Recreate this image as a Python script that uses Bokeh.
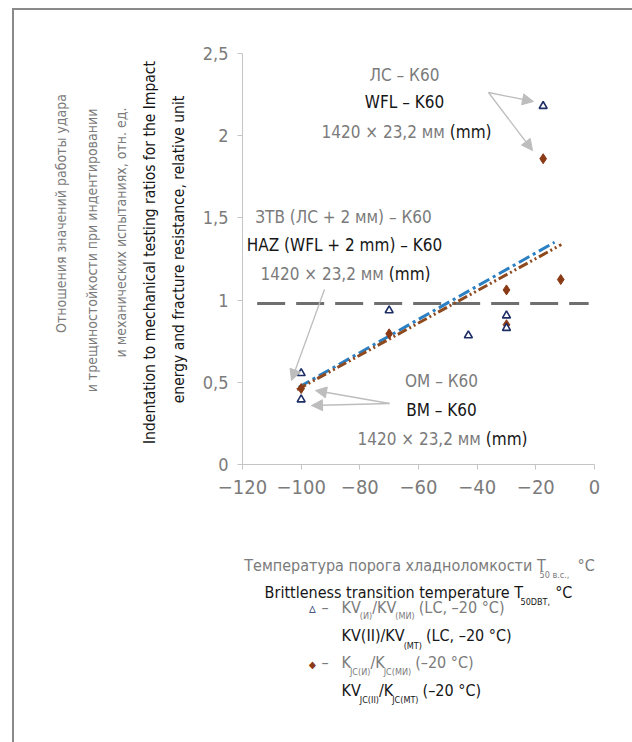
import math
from bokeh.plotting import figure
from bokeh.models import Range1d, Label, Arrow, NormalHead, FixedTicker
from bokeh.layouts import column, row
from bokeh.embed import file_html
from bokeh.resources import INLINE

# ---------------- data ----------------
tri_x = [-100, -100, -70, -43, -30, -30, -17.5]
tri_y = [0.555, 0.395, 0.937, 0.785, 0.906, 0.83, 2.18]
dia_x = [-100, -70, -30, -30, -17.5, -11.5]
dia_y = [0.462, 0.795, 0.85, 1.062, 1.86, 1.125]

trend_tri_x = [-100.8, -13.6]
trend_tri_y = [0.47, 1.352]
trend_dia_x = [-101.4, -11.3]
trend_dia_y = [0.455, 1.338]

ref_x = [-115, -2]
ref_y = [0.98, 0.98]

x_ticks = [-120, -100, -80, -60, -40, -20, 0]
x_tick_labels = ["\u2212120", "\u2212100", "\u221280", "\u221260", "\u221240", "\u221220", "0"]
y_ticks = [0, 0.5, 1, 1.5, 2, 2.5]
y_tick_labels = ["0", "0,5", "1", "1,5", "2", "2,5"]

FONT = "DejaVu Sans Condensed"
GRAY = "#7b7b7b"
BLACK = "#161616"
NAVY = "#1d2d66"
BROWN = "#8a3a15"
BLUE = "#2b7fc3"
TBROWN = "#8e4a1e"
FRAME = "#8a8a8a"

W, H = 632, 742
LEFT_W = 196        # left strip with the rotated titles
ROW_H = 515         # height of the row holding the plot
FL, FR, FT, FB = 242, 594, 53, 464   # plot frame in page pixels

# approximate advance widths (em) of DejaVu Sans; the condensed face is ~0.9x
_W = {" ": .318, "(": .39, ")": .39, ",": .318, ".": .318, "/": .337, "°": .5,
      "–": .5, "−": .838, "+": .838, "×": .838,
      "A": .684, "B": .686, "C": .698, "D": .77, "I": .295, "J": .295, "K": .656,
      "L": .557, "M": .863, "T": .611, "V": .684, "W": .989, "F": .575, "H": .752,
      "Z": .685, "O": .787, "И": .752, "М": .863, "Л": .7, "С": .698, "К": .656,
      "Т": .611, "З": .61, "В": .686, "О": .787,
      "a": .613, "b": .635, "c": .55, "d": .635, "e": .615, "g": .635, "i": .278,
      "l": .278, "m": .974, "n": .634, "o": .612, "p": .635, "r": .411, "s": .521,
      "t": .392, "u": .634, "v": .592, "y": .592, "f": .352,
      "а": .613, "б": .62, "в": .59, "г": .5, "д": .65, "е": .615, "ж": .87,
      "з": .53, "и": .65, "й": .65, "к": .59, "л": .64, "м": .75, "н": .65,
      "о": .612, "п": .65, "р": .635, "с": .55, "т": .52, "у": .592, "ф": .8,
      "х": .592, "ц": .66, "ч": .6, "ш": .9, "щ": .92, "ы": .8, "ь": .59,
      "э": .55, "ю": .87, "я": .6}


def text_w(s, size):
    tot = 0.0
    for ch in s:
        if ch.isdigit():
            tot += .636
        else:
            tot += _W.get(ch, .62)
    return tot * 0.9 * size


def make_aux(width, height, xr, yr, top=0, bottom=0):
    f = figure(width=width, height=height, output_backend="svg", toolbar_location=None,
               x_range=Range1d(*xr), y_range=Range1d(*yr),
               min_border_left=0, min_border_right=0,
               min_border_top=top, min_border_bottom=bottom,
               x_axis_location=None, y_axis_location=None)
    f.outline_line_color = None
    f.grid.visible = False
    f.background_fill_color = None
    f.border_fill_color = None
    return f


# left strip: same vertical borders as the main plot, y range in page pixels
left = make_aux(LEFT_W, ROW_H, (0, LEFT_W), (FB, FT), top=FT, bottom=ROW_H - FB)
# bottom strip: x and y in page pixels
bottom = make_aux(W, H - ROW_H, (0, W), (H, ROW_H))

p = figure(width=W - LEFT_W, height=ROW_H, output_backend="svg",
           toolbar_location=None,
           x_range=Range1d(-120, 0), y_range=Range1d(0, 2.5),
           min_border_left=FL - LEFT_W, min_border_right=W - FR,
           min_border_top=FT, min_border_bottom=ROW_H - FB)
p.outline_line_color = None
p.grid.visible = False
p.background_fill_color = None
p.border_fill_color = None

for ax in (p.xaxis[0], p.yaxis[0]):
    ax.axis_line_color = "#c4c4c4"
    ax.major_tick_line_color = "#c4c4c4"
    ax.minor_tick_line_color = None
    ax.major_tick_in = 0
    ax.major_tick_out = 5
    ax.major_label_text_font = FONT
    ax.major_label_text_color = GRAY

p.xaxis.ticker = FixedTicker(ticks=x_ticks)
p.xaxis.major_label_overrides = {t: l for t, l in zip(x_ticks, x_tick_labels)}
p.xaxis.major_label_text_font_size = "20px"
p.xaxis.major_label_standoff = 10
p.yaxis.ticker = FixedTicker(ticks=y_ticks)
p.yaxis.major_label_overrides = {t: l for t, l in zip(y_ticks, y_tick_labels)}
p.yaxis.major_label_text_font_size = "18px"
p.yaxis.major_label_standoff = 9


def X(px):
    return -120 + (px - FL) * 120.0 / (FR - FL)


def Y(py):
    return (FB - py) * 2.5 / (FB - FT)


def lab(fig, px, py, text, color, size, align="center", angle=0.0):
    """py is the vertical centre of the text line in page pixels."""
    if fig is p:
        x, y = X(px), Y(py)
    else:
        x, y = px, py
    fig.add_layout(Label(x=x, y=y, text=text, text_color=color,
                         text_font=FONT, text_font_size=f"{size}px",
                         text_align=align, text_baseline="middle", angle=angle))


def chain(fig, x0, py, pieces, center=False):
    """pieces: (text, color, size, dy, gap_after)"""
    total = sum(text_w(t, s) + g for (t, c, s, dy, g) in pieces)
    x = x0 - total / 2 if center else x0
    for (t, c, s, dy, g) in pieces:
        lab(fig, x, py + dy, t, c, s, align="left")
        x += text_w(t, s) + g


# reference dashed line
p.line(ref_x, ref_y, line_color="#6f6f6f", line_width=3, line_dash="28 11")

# trend lines
p.line(trend_tri_x, trend_tri_y, line_color=BLUE, line_width=3, line_dash="12 4 3 4")
p.line(trend_dia_x, trend_dia_y, line_color=TBROWN, line_width=3, line_dash="10 3 2 3 2 3")

# points
p.scatter(dia_x, dia_y, marker="diamond", size=10, fill_color=BROWN, line_color=BROWN)
p.scatter(tri_x, tri_y, marker="triangle", size=8, fill_color="white",
          line_color=NAVY, line_width=1.6)

# arrows
ARROW = "#bdbdbd"
for (x0, y0, x1, y1) in [(488, 92, 533, 101), (488, 92, 532, 150), (324, 289, 291, 380),
                         (389, 403, 315, 390), (389, 403, 311, 405)]:
    p.add_layout(Arrow(x_start=X(x0), y_start=Y(y0), x_end=X(x1), y_end=Y(y1),
                       line_color=ARROW, line_width=1.3,
                       end=NormalHead(size=11, fill_color=ARROW, line_color=ARROW)))

# annotations inside the plot
AS = 17
lab(p, 404, 74, "ЛС – К60", GRAY, AS)
lab(p, 404, 101, "WFL – K60", BLACK, AS)
chain(p, 406, 131, [("1420 × 23,2 мм", GRAY, AS, 0, 5), ("(mm)", BLACK, AS, 0, 0)], center=True)

lab(p, 343, 216, "ЗТВ (ЛС + 2 мм) – К60", GRAY, AS)
lab(p, 344, 244, "HAZ (WFL + 2 mm) – K60", BLACK, AS)
chain(p, 345, 273, [("1420 × 23,2 мм", GRAY, AS, 0, 5), ("(mm)", BLACK, AS, 0, 0)], center=True)

lab(p, 441, 380, "ОМ – К60", GRAY, AS)
lab(p, 441, 409, "BM – K60", BLACK, AS)
chain(p, 442, 438, [("1420 × 23,2 мм", GRAY, AS, 0, 5), ("(mm)", BLACK, AS, 0, 0)], center=True)

# y axis titles (rotated)
RS = 14
ES = 15.5
R = math.pi / 2
lab(left, 60, 213, "Отношения значений работы удара", GRAY, RS, angle=R)
lab(left, 91, 250, "и трещиностойкости при индентировании", GRAY, RS, angle=R)
lab(left, 120, 232, "и механических испытаниях, отн. ед.", GRAY, RS, angle=R)
lab(left, 149, 252, "Indentation to mechanical testing ratios for the Impact", BLACK, ES, angle=R)
lab(left, 178, 249, "energy and fracture resistance, relative unit", BLACK, ES, angle=R)

# x axis titles
XS = 16
SUB = 9
chain(bottom, 419, 565, [("Температура порога хладноломкости T", GRAY, XS, 0, -3),
                         ("50 в.с.,", GRAY, SUB, 9, 8),
                         ("°C", GRAY, XS, 0, 0)], center=True)
chain(bottom, 418, 592, [("Brittleness transition temperature T", BLACK, XS, 0, -3),
                         ("50DBT,", BLACK, SUB, 9, 5),
                         ("°C", BLACK, XS, 0, 0)], center=True)

# legend
LS = 16
lab(bottom, 312, 607, "▵", NAVY, 15)
lab(bottom, 321, 607, "–", GRAY, LS, align="left")
chain(bottom, 341, 607, [("KV", GRAY, LS, 0, -1), ("(И)", GRAY, SUB, 8, 0),
                         ("/KV", GRAY, LS, 0, -1), ("(МИ)", GRAY, SUB, 8, 4),
                         ("(LC, –20 °C)", GRAY, LS, 0, 0)])
chain(bottom, 341, 635, [("KV(II)/KV", BLACK, LS, 0, -1), ("(MT)", BLACK, SUB, 10, 4),
                         ("(LC, –20 °C)", BLACK, LS, 0, 0)])

lab(bottom, 312, 664, "◆", BROWN, 10)
lab(bottom, 321, 662, "–", GRAY, LS, align="left")
chain(bottom, 341, 662, [("K", GRAY, LS, 0, -1), ("JC(И)", GRAY, SUB, 9, 0),
                         ("/K", GRAY, LS, 0, -1), ("JC(МИ)", GRAY, SUB, 9, 4),
                         ("(–20 °C)", GRAY, LS, 0, 0)])
chain(bottom, 341, 690, [("KV", BLACK, LS, 0, -1), ("JC(II)", BLACK, SUB, 9, 0),
                         ("/K", BLACK, LS, 0, -1), ("JC(MT)", BLACK, SUB, 9, 4),
                         ("(–20 °C)", BLACK, LS, 0, 0)])

page_styles = {
    "background-color": "white",
    "background-image": f"linear-gradient({FRAME}, {FRAME}), linear-gradient({FRAME}, {FRAME})",
    "background-size": "620px 2px, 2px 734px",
    "background-position": "12px 8px, 12px 8px",
    "background-repeat": "no-repeat",
}
layout = column(row(left, p), bottom, styles=page_styles)
open("out.html", "w").write(file_html(layout, INLINE))
